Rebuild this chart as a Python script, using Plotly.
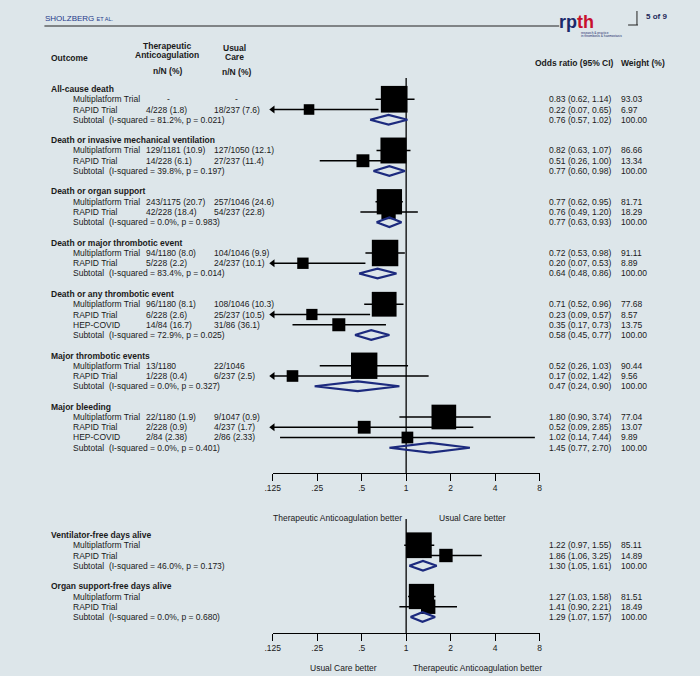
import math
import plotly.graph_objects as go

W, H = 700, 676
BG = "#dde6ea"
TXT = "#1a1a1a"
NAVY = "#1c2a7e"
FONT = "Liberation Sans, Arial, sans-serif"
FS = 8.5

# ---------------- data: upper panel (binary outcomes) ----------------
top_outcomes = ["All-cause death", "Death or invasive mechanical ventilation",
                "Death or organ support", "Death or major thrombotic event",
                "Death or any thrombotic event", "Major thrombotic events", "Major bleeding"]
top_study_group = [0, 0, 1, 1, 2, 2, 3, 3, 4, 4, 4, 5, 5, 6, 6, 6]
top_study_names = ["Multiplatform Trial", "RAPID Trial",
                   "Multiplatform Trial", "RAPID Trial",
                   "Multiplatform Trial", "RAPID Trial",
                   "Multiplatform Trial", "RAPID Trial",
                   "Multiplatform Trial", "RAPID Trial", "HEP-COVID",
                   "Multiplatform Trial", "RAPID Trial",
                   "Multiplatform Trial", "RAPID Trial", "HEP-COVID"]
top_ta = ["-", "4/228 (1.8)", "129/1181 (10.9)", "14/228 (6.1)", "243/1175 (20.7)",
          "42/228 (18.4)", "94/1180 (8.0)", "5/228 (2.2)", "96/1180 (8.1)", "6/228 (2.6)",
          "14/84 (16.7)", "13/1180", "1/228 (0.4)", "22/1180 (1.9)", "2/228 (0.9)", "2/84 (2.38)"]
top_uc = ["-", "18/237 (7.6)", "127/1050 (12.1)", "27/237 (11.4)", "257/1046 (24.6)",
          "54/237 (22.8)", "104/1046 (9.9)", "24/237 (10.1)", "108/1046 (10.3)", "25/237 (10.5)",
          "31/86 (36.1)", "22/1046", "6/237 (2.5)", "9/1047 (0.9)", "4/237 (1.7)", "2/86 (2.33)"]
top_or = [0.83, 0.22, 0.82, 0.51, 0.77, 0.76, 0.72, 0.20, 0.71, 0.23, 0.35, 0.52, 0.17, 1.80, 0.52, 1.02]
top_lo = [0.62, 0.07, 0.63, 0.26, 0.62, 0.49, 0.53, 0.07, 0.52, 0.09, 0.17, 0.26, 0.02, 0.90, 0.09, 0.14]
top_hi = [1.14, 0.65, 1.07, 1.00, 0.95, 1.20, 0.98, 0.53, 0.96, 0.57, 0.73, 1.03, 1.42, 3.74, 2.85, 7.44]
top_w = [93.03, 6.97, 86.66, 13.34, 81.71, 18.29, 91.11, 8.89, 77.68, 8.57, 13.75, 90.44, 9.56, 77.04, 13.07, 9.89]
top_sub_i2 = ["81.2%", "39.8%", "0.0%", "83.4%", "72.9%", "0.0%", "0.0%"]
top_sub_p = ["0.021", "0.197", "0.983", "0.014", "0.025", "0.327", "0.401"]
top_sub_or = [0.76, 0.77, 0.77, 0.64, 0.58, 0.47, 1.45]
top_sub_lo = [0.57, 0.60, 0.63, 0.48, 0.45, 0.24, 0.77]
top_sub_hi = [1.02, 0.98, 0.93, 0.86, 0.77, 0.90, 2.70]

# ---------------- data: lower panel (days alive) ----------------
bot_outcomes = ["Ventilator-free days alive", "Organ support-free days alive"]
bot_study_group = [0, 0, 1, 1]
bot_study_names = ["Multiplatform Trial", "RAPID Trial", "Multiplatform Trial", "RAPID Trial"]
bot_ta = ["", "", "", ""]
bot_uc = ["", "", "", ""]
bot_or = [1.22, 1.86, 1.27, 1.41]
bot_lo = [0.97, 1.06, 1.03, 0.90]
bot_hi = [1.55, 3.25, 1.58, 2.21]
bot_w = [85.11, 14.89, 81.51, 18.49]
bot_sub_i2 = ["46.0%", "0.0%"]
bot_sub_p = ["0.173", "0.680"]
bot_sub_or = [1.30, 1.29]
bot_sub_lo = [1.05, 1.07]
bot_sub_hi = [1.61, 1.57]

tick_vals = [0.125, 0.25, 0.5, 1, 2, 4, 8]
tick_text = [".125", ".25", ".5", "1", "2", "4", "8"]

XMIN, XMAX = 0.125, 8

fig = go.Figure()
annotations = []
shapes = []


def px(x):
    return x / W


def py(y):
    return 1 - y / H


def text(x, y, s, size=FS, bold=False, anchor="left", color=TXT):
    if bold:
        s = "<b>" + s + "</b>"
    annotations.append(dict(x=px(x), y=py(y), xref="paper", yref="paper", text=s,
                            showarrow=False, xanchor=anchor, yanchor="middle",
                            borderpad=0,
                            font=dict(family=FONT, size=size, color=color)))


def panel(outcomes, grp, names, ta, uc, est, lo, hi, w, s_i2, s_p, s_or, s_lo, s_hi,
          y_first, step, xa, ya):
    row = 0
    study_y = []
    sub_y = []
    title_y = []
    k = 0
    for g, name in enumerate(outcomes):
        title_y.append(y_first + row * step)
        row += 1
        while k < len(grp) and grp[k] == g:
            study_y.append(y_first + row * step)
            row += 1
            k += 1
        sub_y.append(y_first + row * step)
        row += 2

    for g, name in enumerate(outcomes):
        text(43, title_y[g], name, bold=True)
        text(65, sub_y[g], "Subtotal  (I-squared = %s, p = %s)" % (s_i2[g], s_p[g]))
        text(549, sub_y[g], "%.2f (%.2f, %.2f)" % (s_or[g], s_lo[g], s_hi[g]))
        text(622, sub_y[g], "100.00")

    for i in range(len(names)):
        y = study_y[i]
        text(65, y, names[i])
        if ta[i] == "-":
            text(163, y, "-", anchor="center")
        elif ta[i]:
            text(139, y, ta[i])
        if uc[i] == "-":
            text(232, y, "-", anchor="center")
        elif uc[i]:
            text(208, y, uc[i])
        text(549, y, "%.2f (%.2f, %.2f)" % (est[i], lo[i], hi[i]))
        text(622, y, "%.2f" % w[i])

    # CI lines
    lx, ly, ax_, ay_ = [], [], [], []
    for i in range(len(names)):
        l = max(lo[i], XMIN)
        h = min(hi[i], XMAX)
        lx += [l, h, None]
        ly += [study_y[i], study_y[i], None]
        if lo[i] < XMIN:
            ax_.append(XMIN)
            ay_.append(study_y[i])
    fig.add_trace(go.Scatter(x=lx, y=ly, mode="lines", xaxis=xa, yaxis=ya,
                             line=dict(color="black", width=1.6), hoverinfo="skip",
                             showlegend=False, cliponaxis=False))
    if ax_:
        fig.add_trace(go.Scatter(x=ax_, y=ay_, mode="markers", xaxis=xa, yaxis=ya,
                                 marker=dict(symbol="triangle-left", size=7, color="black",
                                             opacity=1),
                                 hoverinfo="skip", showlegend=False, cliponaxis=False))
    # weight squares
    fig.add_trace(go.Scatter(x=est, y=study_y, mode="markers", xaxis=xa, yaxis=ya,
                             marker=dict(symbol="square", color="black", opacity=1,
                                         size=[4.5 + 2.3 * math.sqrt(v) for v in w],
                                         line=dict(width=0)),
                             hoverinfo="skip", showlegend=False, cliponaxis=False))
    # subtotal diamonds
    dx, dy = [], []
    hh = 4.8
    for g in range(len(outcomes)):
        y = sub_y[g]
        dx += [s_lo[g], s_or[g], s_hi[g], s_or[g], s_lo[g], None]
        dy += [y, y - hh, y, y + hh, y, None]
    fig.add_trace(go.Scatter(x=dx, y=dy, mode="lines", xaxis=xa, yaxis=ya,
                             line=dict(color=NAVY, width=2.2), hoverinfo="skip",
                             showlegend=False, cliponaxis=False))


TOP_Y0, TOP_Y1 = 78, 473
BOT_Y0, BOT_Y1 = 519, 633
STEP = 10.25

panel(top_outcomes, top_study_group, top_study_names, top_ta, top_uc, top_or, top_lo, top_hi,
      top_w, top_sub_i2, top_sub_p, top_sub_or, top_sub_lo, top_sub_hi, 89, STEP, "x", "y")
panel(bot_outcomes, bot_study_group, bot_study_names, bot_ta, bot_uc, bot_or, bot_lo, bot_hi,
      bot_w, bot_sub_i2, bot_sub_p, bot_sub_or, bot_sub_lo, bot_sub_hi, 535, STEP, "x2", "y2")

# null lines at OR = 1
for xr, yr in (("x", "y domain"), ("x2", "y2 domain")):
    shapes.append(dict(type="line", xref=xr, yref=yr, x0=1, x1=1, y0=0, y1=1,
                       line=dict(color="black", width=1.3), layer="below"))

# headers
text(43, 58, "Outcome", bold=True)
text(162, 46, "Therapeutic", bold=True, anchor="center")
text(162, 55, "Anticoagulation", bold=True, anchor="center")
text(162, 71, "n/N (%)", bold=True, anchor="center")
text(230, 48, "Usual", bold=True, anchor="center")
text(230, 57, "Care", bold=True, anchor="center")
text(232, 72, "n/N (%)", bold=True, anchor="center")
text(534, 63, "Odds ratio (95% CI)", bold=True)
text(622, 63, "Weight (%)", bold=True)

# axis captions
text(335, 518, "Therapeutic Anticoagulation better", anchor="center")
text(472, 518, "Usual Care better", anchor="center")
text(341, 668, "Usual Care better", anchor="center")
text(477, 668, "Therapeutic Anticoagulation better", anchor="center")

# page header
text(37, 18, "SHOLZBERG <span style='font-size:5.5px'>ET AL.</span>", size=8, color="#1f3a8a")
shapes.append(dict(type="line", xref="paper", yref="paper", x0=px(37), x1=px(560),
                   y0=py(26), y1=py(26), line=dict(color="#222", width=1)))
shapes.append(dict(type="line", xref="paper", yref="paper", x0=px(630), x1=px(640),
                   y0=py(25), y1=py(25), line=dict(color="#222", width=1)))
shapes.append(dict(type="line", xref="paper", yref="paper", x0=px(639), x1=px(639),
                   y0=py(11), y1=py(25), line=dict(color="#222", width=1)))
text(647, 17, "5 of 9", size=8, bold=True, color="#1f2a5a")
text(559, 22, "<b><span style='color:#1b2a6b'>rp</span><span style='color:#c8102e'>th</span></b>",
     size=18)
text(581, 33, "research &amp; practice", size=3.2, color="#1b2a6b")
text(581, 36, "in thrombosis &amp; haemostasis", size=3.2, color="#1b2a6b")

axis_common = dict(type="log", range=[math.log10(XMIN), math.log10(XMAX)],
                   domain=[269 / W, 540 / W], showgrid=False, zeroline=False,
                   showline=True, linecolor="black", linewidth=1.3,
                   ticks="outside", ticklen=7, tickwidth=1.3, tickcolor="black",
                   tickvals=tick_vals, ticktext=tick_text,
                   tickfont=dict(family=FONT, size=FS, color=TXT), fixedrange=True)

fig.update_layout(
    width=W, height=H,
    margin=dict(l=0, r=0, t=0, b=0),
    paper_bgcolor=BG, plot_bgcolor=BG,
    showlegend=False,
    xaxis=dict(anchor="y", **axis_common),
    xaxis2=dict(anchor="y2", **axis_common),
    yaxis=dict(domain=[py(TOP_Y1), py(TOP_Y0)], range=[TOP_Y1, TOP_Y0], visible=False,
               fixedrange=True),
    yaxis2=dict(domain=[py(BOT_Y1), py(BOT_Y0)], range=[BOT_Y1, BOT_Y0], visible=False,
                fixedrange=True),
    annotations=annotations,
    shapes=shapes,
)

fig.write_html("out.html", config={"displayModeBar": False},
               post_script="document.body.style.margin='0';document.body.style.overflow='hidden';")
